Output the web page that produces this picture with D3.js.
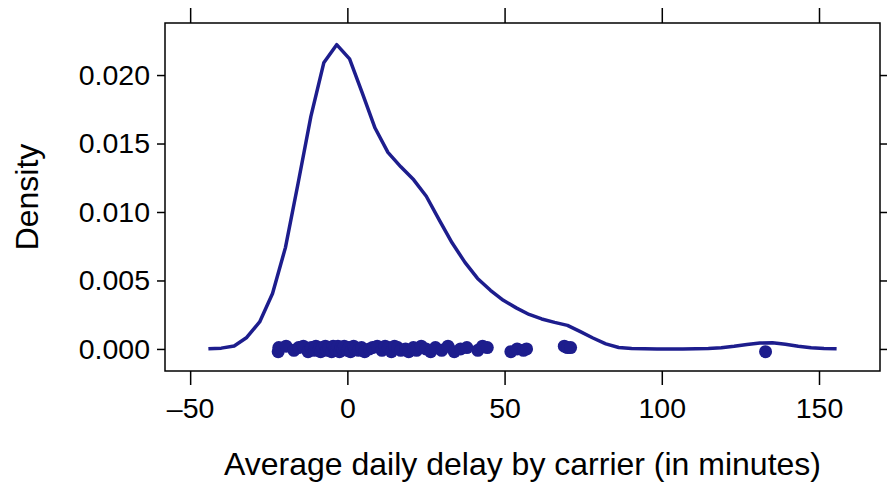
<!DOCTYPE html>
<html>
<head>
<meta charset="utf-8">
<script src="https://cdn.jsdelivr.net/npm/d3@7"></script>
<style>
  body { margin: 0; background: #fff; }
  svg { display: block; font-family: "Liberation Sans", Arial, sans-serif; }
</style>
</head>
<body>
<svg id="chart"></svg>
<script>
// density estimate (50 grid points)
const gridX = [-44.2, -40.1, -36.0, -32.0, -27.9, -23.8, -19.7, -15.7, -11.6, -7.5,
  -3.4, 0.7, 4.7, 8.8, 12.9, 17.0, 21.1, 25.1, 29.2, 33.3,
  37.4, 41.4, 45.5, 49.6, 53.7, 57.8, 61.8, 65.9, 70.0, 74.1,
  78.1, 82.2, 86.3, 90.4, 94.5, 98.5, 102.6, 106.7, 110.8, 114.8,
  118.9, 123.0, 127.1, 131.2, 135.2, 139.3, 143.4, 147.5, 151.6, 155.6];
const densityY = [0.00001, 0.00006, 0.00022, 0.00084, 0.00197, 0.00405, 0.0074, 0.01206, 0.01698, 0.02089,
  0.02222, 0.02118, 0.01871, 0.01613, 0.01435, 0.0133, 0.01235, 0.01115, 0.00943, 0.00775,
  0.00632, 0.00515, 0.00428, 0.00355, 0.003, 0.00252, 0.00219, 0.00194, 0.00172, 0.00126,
  0.0008, 0.00037, 0.00011, 0.00004, 0.00001, 0, 0, 0, 0.00001, 0.00003,
  0.00008, 0.00019, 0.00033, 0.00044, 0.00045, 0.00034, 0.00019, 0.00008, 0.00003, 0.00001];

// raw observations with their vertical jitter
const delays = [-22, -21.8, -19.5, -17, -15.5, -14, -12.5, -11.5, -10.5, -10,
  -9, -8.5, -8, -7, -6.5, -6, -5, -4.5, -4, -3.5,
  -3, -2.5, -2, -1.5, -1, 0, 0.5, 1, 2, 2.5,
  3.5, 4.5, 5.5, 7, 8, 9.5, 11, 12, 13, 14,
  15, 16, 17, 18.5, 19.5, 21, 22, 23.5, 25, 26.5,
  28, 30, 32, 34, 36, 38, 41.5, 43, 44.5, 52,
  54, 56, 57, 69, 70, 71, 133];
const jitter = [-0.0002, 0.0001, 0.0002, -0.0001, 0.0001, 0.0002, -0.0002, 0.0001, -0.0001, 0.0002,
  0, -0.0002, 0.0001, 0.0002, -0.0001, 0.0001, -0.0002, 0.0002, 0, -0.0001,
  0.0002, -0.0002, 0.0001, 0, 0.0002, -0.0001, 0.0001, -0.0002, 0.0002, 0,
  -0.0001, 0.0001, -0.0002, 0, 0.0001, 0.0002, -0.0001, 0.0002, 0.0001, -0.0002,
  0.0002, 0.0001, -0.0001, 0, -0.0002, 0.0001, -0.0001, 0.0002, 0, -0.0002,
  0.0001, -0.0001, 0.0002, -0.0002, 0, 0.0001, -0.0001, 0.0002, 0.0001, -0.0002,
  0, -0.0001, 0, 0.0002, 0.0001, 0.0001, -0.0002];

const xTicks = [-50, 0, 50, 100, 150];
const yTicks = [0, 0.005, 0.01, 0.015, 0.02];

const width = 887;
const height = 485;
const panelLeft = 165, panelRight = 880, panelTop = 23, panelBottom = 371;
const col = '#1d1d8d';

const svg = d3.select('#chart').attr('width', width).attr('height', height);

const x = d3.scaleLinear().domain([-58, 169.4]).range([panelLeft, panelRight]);
const y = d3.scaleLinear().domain([-0.00161, 0.0238]).range([panelBottom, panelTop]);

// axes
svg.append('g')
  .attr('transform', 'translate(0,' + panelBottom + ')')
  .call(d3.axisBottom(x).tickValues(xTicks).tickSize(14).tickPadding(13)
    .tickFormat(d => d < 0 ? '\u2013' + Math.abs(d) : d));
svg.append('g')
  .attr('transform', 'translate(0,' + panelTop + ')')
  .call(d3.axisTop(x).tickValues(xTicks).tickSize(15).tickFormat(''));
svg.append('g')
  .attr('transform', 'translate(' + panelLeft + ',0)')
  .call(d3.axisLeft(y).tickValues(yTicks).tickSize(8).tickPadding(7)
    .tickFormat(d3.format('.3f')));
svg.append('g')
  .attr('transform', 'translate(' + panelRight + ',0)')
  .call(d3.axisRight(y).tickValues(yTicks).tickSize(8).tickFormat(''));

svg.selectAll('.domain').remove();
svg.selectAll('.tick line').attr('stroke', '#000').attr('stroke-width', 1.5);
svg.selectAll('.tick text').attr('font-size', 28.5).attr('fill', '#000')
  .style('font-family', '"Liberation Sans", Arial, sans-serif');

// panel box
svg.append('rect')
  .attr('x', panelLeft).attr('y', panelTop)
  .attr('width', panelRight - panelLeft).attr('height', panelBottom - panelTop)
  .attr('fill', 'none').attr('stroke', '#000').attr('stroke-width', 1.5);

// density curve
const line = d3.line().x((d, i) => x(gridX[i])).y(d => y(d));
svg.append('path')
  .datum(densityY)
  .attr('d', line)
  .attr('fill', 'none')
  .attr('stroke', col)
  .attr('stroke-width', 3.5)
  .attr('stroke-linejoin', 'round');

// jittered points
svg.append('g').selectAll('circle')
  .data(delays)
  .enter()
  .append('circle')
  .attr('cx', d => x(d))
  .attr('cy', (d, i) => y(jitter[i]))
  .attr('r', 6.5)
  .attr('fill', col);

// labels
svg.append('text')
  .attr('x', (panelLeft + panelRight) / 2)
  .attr('y', 475)
  .attr('text-anchor', 'middle')
  .attr('font-size', 32)
  .text('Average daily delay by carrier (in minutes)');

svg.append('text')
  .attr('transform', 'translate(38,' + ((panelTop + panelBottom) / 2) + ') rotate(-90)')
  .attr('text-anchor', 'middle')
  .attr('font-size', 32)
  .text('Density');
</script>
</body>
</html>
